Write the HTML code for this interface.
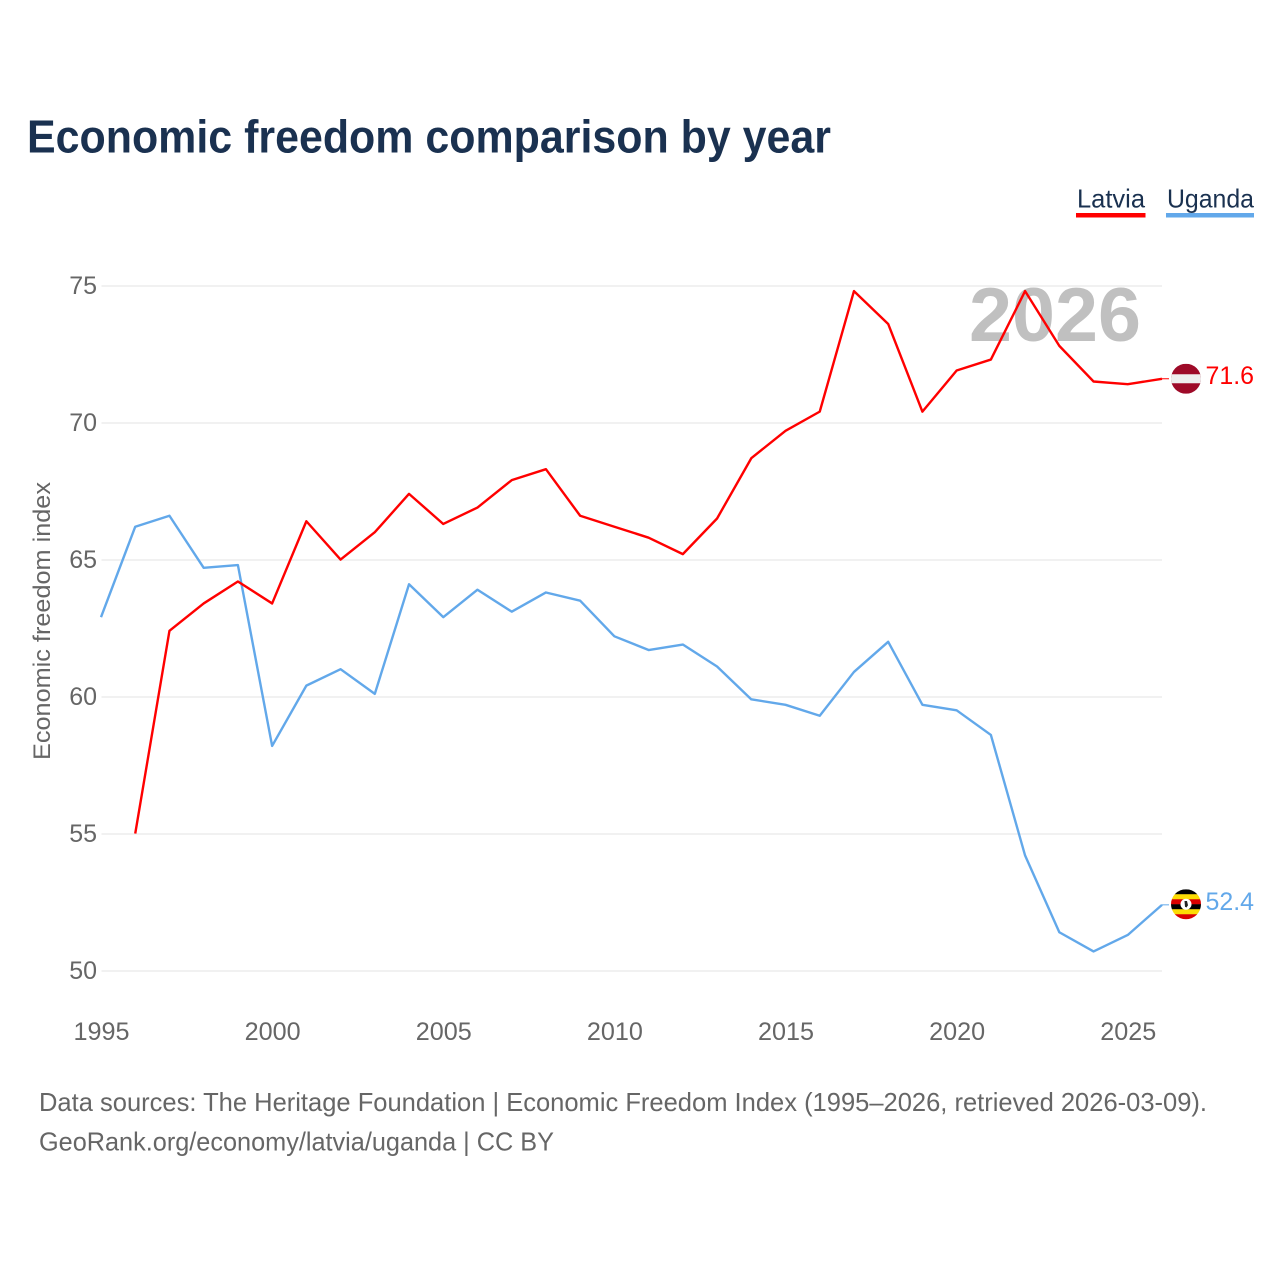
<!DOCTYPE html>
<html lang="en">
<head>
<meta charset="utf-8">
<title>Economic freedom comparison by year</title>
<style>
html,body{margin:0;padding:0;background:#fff;width:1280px;height:1280px;overflow:hidden}
svg{display:block;font-family:"Liberation Sans",sans-serif}
</style>
</head>
<body>
<svg id="chart" xmlns="http://www.w3.org/2000/svg" width="1280" height="1280" viewBox="0 0 1280 1280">
  <defs>
    <clipPath id="lv-clip"><circle cx="0" cy="0" r="15"/></clipPath>
    <clipPath id="ug-clip"><circle cx="0" cy="0" r="15"/></clipPath>
  </defs>
  <rect width="1280" height="1280" fill="#fff"/>
  <text x="27" y="152.500" font-size="46" font-weight="700" fill="#1a3150" textLength="804" lengthAdjust="spacingAndGlyphs">Economic freedom comparison by year</text>
  <g id="grid"></g>
  <text x="1055" y="341" font-size="76" font-weight="700" fill="#c0c0c0" text-anchor="middle" textLength="172" lengthAdjust="spacingAndGlyphs">2026</text>
  <g id="y-ticks"></g>
  <g id="x-ticks"></g>
  <text transform="translate(50,621) rotate(-90)" font-size="24" fill="#666" text-anchor="middle" textLength="278" lengthAdjust="spacingAndGlyphs">Economic freedom index</text>
  <g id="series"></g>

  <g>
    <text x="1077" y="207.500" font-size="26" fill="#1a3150" textLength="68" lengthAdjust="spacingAndGlyphs">Latvia</text>
    <rect x="1076" y="213" width="69.500" height="4.500" fill="#ff0000"/>
  </g>
  <g>
    <text x="1167" y="207.500" font-size="26" fill="#1a3150" textLength="87" lengthAdjust="spacingAndGlyphs">Uganda</text>
    <rect x="1166" y="213" width="88" height="4.500" fill="#62a8ea"/>
  </g>

  <g id="end-labels"></g>

  <g font-size="26" fill="#666">
    <text x="39" y="1111" textLength="1168" lengthAdjust="spacingAndGlyphs">Data sources: The Heritage Foundation | Economic Freedom Index (1995–2026, retrieved 2026-03-09).</text>
    <text x="39" y="1150.500" textLength="515" lengthAdjust="spacingAndGlyphs">GeoRank.org/economy/latvia/uganda | CC BY</text>
  </g>
</svg>
<script>
var years = [1995,1996,1997,1998,1999,2000,2001,2002,2003,2004,2005,2006,2007,2008,2009,2010,2011,2012,2013,2014,2015,2016,2017,2018,2019,2020,2021,2022,2023,2024,2025,2026];
var latviaValues = [null,55,62.4,63.4,64.2,63.4,66.4,65,66,67.4,66.3,66.9,67.9,68.3,66.6,66.2,65.8,65.2,66.5,68.7,69.7,70.4,74.8,73.6,70.4,71.9,72.3,74.8,72.8,71.5,71.4,71.6];
var ugandaValues = [62.9,66.2,66.6,64.7,64.8,58.2,60.4,61,60.1,64.1,62.9,63.9,63.1,63.8,63.5,62.2,61.7,61.9,61.1,59.9,59.7,59.3,60.9,62,59.7,59.5,58.6,54.2,51.4,50.7,51.3,52.4];
var yTickValues = [50,55,60,65,70,75];
var xTickValues = [1995,2000,2005,2010,2015,2020,2025];

var NS = 'http://www.w3.org/2000/svg';
function xScale(year){ return 101 + (year - 1995) * (1162 - 101) / 31; }
function yScale(v){ return 970.6 + (v - 50) * (285.6 - 970.6) / 25; }
function mk(tag, parent, attrs){
  var el = document.createElementNS(NS, tag);
  for (var k in attrs) el.setAttribute(k, attrs[k]);
  parent.appendChild(el);
  return el;
}

var gridG = document.getElementById('grid');
var yG = document.getElementById('y-ticks');
yTickValues.forEach(function(v){
  var gy = Math.round(yScale(v));
  var line = mk('line', gridG, {x1:101.5, x2:1162, y1:gy, y2:gy, stroke:'#f1f1f1', 'stroke-width':2});
  
  
  var t = mk('text', yG, {x:97, y:gy + 8, 'font-size':25, fill:'#666', 'text-anchor':'end'});
  
  
  t.textContent = v;
});

var xG = document.getElementById('x-ticks');
xTickValues.forEach(function(y){
  var t = mk('text', xG, {x:xScale(y) + 0.5, y:1040, 'font-size':25, fill:'#666', 'text-anchor':'middle', textLength:56, lengthAdjust:'spacingAndGlyphs'});
  
  
  t.textContent = y;
});

function pathFor(values){
  var pts = [];
  values.forEach(function(v, i){
    if (v !== null) pts.push(xScale(years[i]).toFixed(2) + ',' + yScale(v).toFixed(2));
  });
  return pts.join(' ');
}
var seriesG = document.getElementById('series');
var uLine = mk('polyline', seriesG, {points:pathFor(ugandaValues), fill:'none', stroke:'#62a8ea', 'stroke-width':2.4, 'stroke-linejoin':'round'});


var lLine = mk('polyline', seriesG, {points:pathFor(latviaValues), fill:'none', stroke:'#ff0000', 'stroke-width':2.4, 'stroke-linejoin':'round'});



var endG = document.getElementById('end-labels');
var lastL = latviaValues[latviaValues.length - 1];
var lastU = ugandaValues[ugandaValues.length - 1];
var endX = xScale(years[years.length - 1]);

var lConn = mk('line', endG, {x1:endX, x2:1169, y1:yScale(lastL), y2:yScale(lastL), stroke:'#ff0000', 'stroke-width':1});


var uConn = mk('line', endG, {x1:endX, x2:1169, y1:yScale(lastU), y2:yScale(lastU), stroke:'#62a8ea', 'stroke-width':1});



var lFlag = mk('g', endG, {transform:'translate(1186,' + yScale(lastL) + ')', 'clip-path':'url(#lv-clip)'});


mk('rect', lFlag, {x:-15, y:-15, width:30, height:30, fill:'#9e0a28'});
mk('rect', lFlag, {x:-15, y:-4.5, width:30, height:9, fill:'#eeeeee'});

var uFlag = mk('g', endG, {transform:'translate(1186,' + (yScale(lastU) - 0.6) + ')', 'clip-path':'url(#ug-clip)'});


var bands = ['#000000','#fcdc04','#d90000','#000000','#fcdc04','#d90000'];
bands.forEach(function(c, i){
  mk('rect', uFlag, {x:-15, y:-15 + i * 5, width:30, height:5.2, fill:c});
});
mk('circle', uFlag, {cx:0, cy:0, r:5.5, fill:'#ffffff'});
mk('path', uFlag, {d:'M-1.5-3.2 L1 -3.2 L2 1 L0.5 3.2 L-1 2.5 Z', fill:'#222222'});

var lLabel = mk('text', endG, {x:1205.500, y:yScale(lastL) + 5.4, 'font-size':25, fill:'#ff0000', textLength:48.5, lengthAdjust:'spacingAndGlyphs'});


lLabel.textContent = lastL.toFixed(1);
var uLabel = mk('text', endG, {x:1205.500, y:yScale(lastU) + 5.4, 'font-size':25, fill:'#62a8ea', textLength:48.5, lengthAdjust:'spacingAndGlyphs'});


uLabel.textContent = lastU.toFixed(1);
</script>
</body>
</html>
